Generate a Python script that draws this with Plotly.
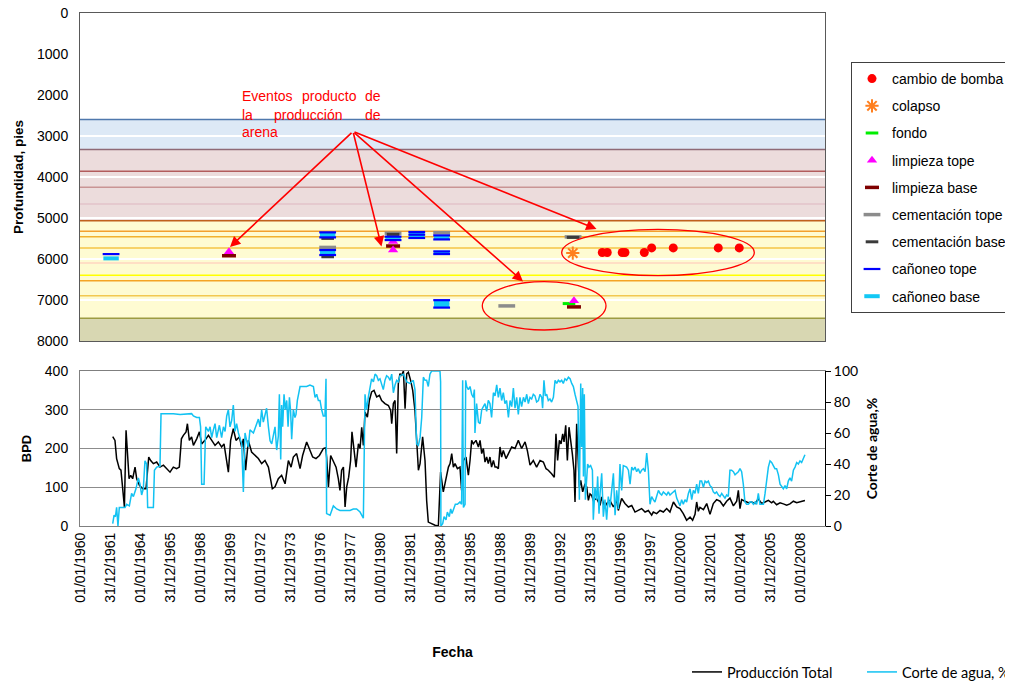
import plotly.graph_objects as go
from datetime import datetime

# ------------------------------------------------------------------ data
xtick_labels = ["01/01/1960", "31/12/1961", "01/01/1964", "31/12/1965", "01/01/1968",
                "31/12/1969", "01/01/1972", "31/12/1973", "01/01/1976", "31/12/1977",
                "01/01/1980", "31/12/1981", "01/01/1984", "31/12/1985", "01/01/1988",
                "31/12/1989", "01/01/1992", "31/12/1993", "01/01/1996", "31/12/1997",
                "01/01/2000", "31/12/2001", "01/01/2004", "31/12/2005", "01/01/2008"]

prod_year = [1962.18, 1962.33, 1962.44, 1962.62, 1962.73, 1962.89, 1962.96, 1963.07, 1963.18, 1963.27,
             1963.38, 1963.51, 1963.67, 1963.78, 1963.96, 1964.18, 1964.40, 1964.49, 1964.58, 1964.71,
             1964.89, 1965.11, 1965.33, 1965.56, 1965.78, 1966.00, 1966.22, 1966.44, 1966.62, 1966.76,
             1966.89, 1967.07, 1967.16, 1967.29, 1967.44, 1967.56, 1967.78, 1967.96, 1968.11, 1968.33,
             1968.56, 1968.78, 1969.00, 1969.22, 1969.44, 1969.60, 1969.78, 1969.89, 1970.04, 1970.22,
             1970.40, 1970.62, 1970.78, 1970.89, 1971.04, 1971.22, 1971.44, 1971.67, 1971.89, 1972.11,
             1972.33, 1972.56, 1972.67, 1972.82, 1973.00, 1973.22, 1973.44, 1973.67, 1973.89, 1974.07,
             1974.22, 1974.44, 1974.67, 1974.84, 1975.11, 1975.29, 1975.51, 1975.73, 1975.96, 1976.22,
             1976.38, 1976.44, 1976.56, 1976.71, 1976.89, 1977.07, 1977.22, 1977.33, 1977.44, 1977.56,
             1977.67, 1977.78, 1977.91, 1978.04, 1978.13, 1978.27, 1978.40, 1978.56, 1978.67, 1978.78,
             1978.89, 1979.00, 1979.16, 1979.29, 1979.44, 1979.60, 1979.78, 1979.96, 1980.11, 1980.33,
             1980.56, 1980.71, 1980.78, 1980.89, 1981.00, 1981.11, 1981.22, 1981.33, 1981.44, 1981.56,
             1981.67, 1981.78, 1981.89, 1982.04, 1982.18, 1982.33, 1982.44, 1982.56, 1982.67, 1982.84,
             1983.00, 1983.11, 1983.22, 1983.44, 1983.67, 1983.89,
             1984.04, 1984.22, 1984.40, 1984.56, 1984.67, 1984.78, 1984.89, 1985.00, 1985.16, 1985.33,
             1985.44, 1985.56, 1985.73, 1985.89, 1986.00, 1986.11, 1986.22, 1986.40, 1986.56, 1986.67,
             1986.78, 1986.89, 1987.00, 1987.11, 1987.22, 1987.33, 1987.44, 1987.56, 1987.67, 1987.78,
             1987.89, 1988.00, 1988.11, 1988.22, 1988.40, 1988.56, 1988.78, 1989.00, 1989.22, 1989.44,
             1989.67, 1989.82, 1990.00, 1990.22, 1990.44, 1990.67, 1990.89, 1991.07, 1991.22, 1991.44,
             1991.62, 1991.73, 1991.84, 1991.96, 1992.07, 1992.18, 1992.27, 1992.38, 1992.49, 1992.60,
             1992.71, 1992.82, 1992.93, 1993.00, 1993.11, 1993.20, 1993.29, 1993.38, 1993.51, 1993.67,
             1993.78, 1993.89, 1994.00, 1994.11, 1994.22, 1994.44, 1994.67, 1994.78, 1994.89, 1995.00,
             1995.11, 1995.33, 1995.56, 1995.78, 1995.89, 1996.11, 1996.33, 1996.56, 1996.78, 1997.00,
             1997.22, 1997.44, 1997.67, 1997.89, 1998.11, 1998.22, 1998.44, 1998.67, 1998.89, 1999.11,
             1999.33, 1999.56, 1999.78, 2000.00, 2000.22, 2000.44, 2000.67, 2000.84, 2001.00, 2001.11,
             2001.22, 2001.33, 2001.56, 2001.78, 2002.00, 2002.22, 2002.44, 2002.67, 2002.89, 2003.11,
             2003.33, 2003.56, 2003.78, 2003.89, 2004.00, 2004.11, 2004.33, 2004.56, 2004.78, 2005.00,
             2005.22, 2005.44, 2005.67, 2005.89, 2006.11, 2006.22, 2006.44, 2006.67, 2006.89, 2007.11,
             2007.33, 2007.56, 2007.78, 2008.00, 2008.33]
prod_bpd = [231, 221, 174, 148, 144, 83, 49, 247, 178, 122,
            131, 122, 152, 122, 105, 96, 96, 135, 178, 169,
            161, 165, 152, 157, 148, 139, 152, 148, 152, 225,
            234, 243, 264, 221, 230, 208, 225, 243, 212, 221,
            234, 221, 208, 217, 204, 212, 169, 139, 221, 251,
            221, 230, 204, 225, 144, 221, 191, 182, 174, 161,
            169, 152, 126, 96, 101, 122, 131, 109, 169, 152,
            178, 187, 148, 182, 217, 200, 178, 174, 182, 200,
            202, 178, 101, 182, 169, 152, 122, 92, 144, 152,
            49, 101, 126, 169, 243, 187, 152, 212, 200, 255,
            208, 294, 281, 324, 346, 350, 333, 337, 324, 316,
            311, 298, 264, 316, 324, 187, 367, 393, 389, 400,
            303, 393, 397, 376, 350, 298, 221, 144, 161, 230,
            169, 66, 10, 6, 2, 0,
            139, 88, 118, 152, 161, 187, 152, 161, 148, 152,
            92, 169, 178, 131, 169, 221, 212, 221, 204, 221,
            187, 200, 165, 178, 161, 178, 152, 169, 152, 152,
            148, 204, 178, 195, 174, 187, 204, 200, 221, 200,
            217, 195, 157, 169, 152, 169, 165, 148, 144, 135,
            126, 238, 169, 221, 212, 238, 217, 260, 169, 255,
            225, 187, 144, 62, 264, 178, 101, 118, 88, 109,
            101, 66, 83, 79, 66, 71, 53, 75, 58, 49,
            58, 66, 49, 66, 40, 71, 58, 49, 53, 36,
            40, 45, 36, 40, 28, 36, 32, 40, 36, 45,
            36, 62, 49, 45, 32, 15, 23, 15, 30, 62,
            38, 48, 42, 58, 30, 58, 68, 64, 52, 64,
            72, 52, 64, 92, 45, 68, 64, 60, 62, 58,
            70, 58, 62, 66, 60, 64, 55, 60, 57, 54,
            57, 64, 60, 63, 66]

cut_year = [1962.18, 1962.27, 1962.36, 1962.44, 1962.53, 1962.62, 1962.78, 1963.00, 1963.11, 1963.29,
            1963.44, 1963.56, 1963.73, 1963.89, 1964.00, 1964.11, 1964.22, 1964.33, 1964.44, 1964.51,
            1964.67, 1964.89, 1964.96, 1965.11, 1965.33, 1965.40, 1965.78, 1966.22, 1966.67, 1967.11,
            1967.44, 1967.56, 1967.78, 1967.96, 1968.04, 1968.11, 1968.27, 1968.38, 1968.56, 1968.67,
            1968.78, 1968.89, 1969.00, 1969.11, 1969.29, 1969.44, 1969.56, 1969.67, 1969.78, 1969.89,
            1970.00, 1970.11, 1970.22, 1970.33, 1970.44, 1970.56, 1970.67, 1970.78, 1970.89, 1971.00,
            1971.11, 1971.22, 1971.33, 1971.56, 1971.78, 1971.89, 1972.00, 1972.11, 1972.22, 1972.33,
            1972.44, 1972.56, 1972.67, 1972.78, 1972.89, 1973.00, 1973.11, 1973.22, 1973.29, 1973.38,
            1973.44, 1973.51, 1973.60, 1973.69, 1973.78, 1973.87, 1973.96, 1974.04, 1974.11, 1974.22,
            1974.33, 1974.40, 1974.49, 1974.58, 1974.67, 1974.89, 1975.11, 1975.33, 1975.56, 1975.67,
            1975.78, 1975.89, 1976.00, 1976.11, 1976.22, 1976.33, 1976.40, 1976.44, 1976.67, 1976.89,
            1977.11, 1977.33, 1977.56, 1977.78, 1978.00, 1978.22, 1978.44, 1978.67, 1978.89, 1979.00,
            1979.11, 1979.22, 1979.33, 1979.44, 1979.56, 1979.67, 1979.78, 1979.89, 1980.00, 1980.11,
            1980.22, 1980.33, 1980.44, 1980.56, 1980.67, 1980.78, 1980.89, 1981.00, 1981.11, 1981.22,
            1981.33, 1981.56, 1981.78, 1982.00, 1982.22, 1982.33, 1982.44, 1982.56, 1982.67, 1982.78,
            1982.84, 1982.89, 1983.00, 1983.11, 1983.22, 1983.33, 1983.44, 1983.70, 1984.00, 1984.04,
            1984.06, 1984.18, 1984.27, 1984.40, 1984.49, 1984.62, 1984.71, 1984.80, 1984.89, 1985.02,
            1985.16, 1985.33, 1985.44, 1985.51, 1985.56, 1985.67, 1985.71, 1985.78, 1985.89, 1986.00,
            1986.11, 1986.22, 1986.29, 1986.33, 1986.44, 1986.56, 1986.67, 1986.78, 1986.89, 1987.00,
            1987.11, 1987.22, 1987.33, 1987.44, 1987.56, 1987.67, 1987.78, 1987.89, 1988.00, 1988.11,
            1988.22, 1988.33, 1988.44, 1988.56, 1988.67, 1988.78, 1988.89, 1989.00, 1989.11, 1989.22,
            1989.33, 1989.44, 1989.56, 1989.67, 1989.78, 1989.89, 1990.00, 1990.11, 1990.22, 1990.33,
            1990.44, 1990.56, 1990.67, 1990.78, 1990.84, 1990.93, 1991.02, 1991.11, 1991.22, 1991.33,
            1991.44, 1991.56, 1991.67, 1991.78, 1991.89, 1992.00, 1992.11, 1992.22, 1992.33, 1992.44,
            1992.56, 1992.67, 1992.78, 1992.89, 1993.00, 1993.11, 1993.20, 1993.29, 1993.38, 1993.44,
            1993.51, 1993.56, 1993.62, 1993.69, 1993.78, 1993.84, 1993.93, 1994.04, 1994.16, 1994.22,
            1994.33, 1994.44, 1994.51, 1994.60, 1994.67, 1994.78, 1994.89, 1995.00, 1995.11, 1995.22,
            1995.33, 1995.44, 1995.56, 1995.67, 1995.78, 1995.89, 1996.00, 1996.11, 1996.22, 1996.44,
            1996.56, 1996.67, 1996.78, 1996.89, 1997.00, 1997.11, 1997.22, 1997.33, 1997.44, 1997.56,
            1997.67, 1997.78, 1997.89, 1998.00, 1998.11, 1998.22, 1998.33, 1998.44, 1998.56, 1998.67,
            1998.78, 1998.89, 1999.00, 1999.11, 1999.22, 1999.33, 1999.44, 1999.56, 1999.67, 1999.78,
            1999.89, 2000.00, 2000.11, 2000.22, 2000.33, 2000.44, 2000.56, 2000.67, 2000.78, 2000.89,
            2001.00, 2001.11, 2001.22, 2001.33, 2001.44, 2001.56, 2001.67, 2001.78, 2001.89, 2002.00,
            2002.11, 2002.22, 2002.33, 2002.44, 2002.56, 2002.67, 2002.78, 2002.89, 2003.00, 2003.11,
            2003.22, 2003.33, 2003.44, 2003.56, 2003.67, 2003.78, 2003.89, 2004.00, 2004.11, 2004.22,
            2004.33, 2004.44, 2004.56, 2004.67, 2004.78, 2004.89, 2005.00, 2005.11, 2005.22, 2005.33,
            2005.56, 2005.67, 2005.78, 2005.89, 2006.00, 2006.11, 2006.22, 2006.33, 2006.44, 2006.56,
            2006.67, 2006.78, 2006.89, 2007.00, 2007.11, 2007.22, 2007.33, 2007.44, 2007.56, 2007.67,
            2007.78, 2007.89, 2008.00, 2008.11, 2008.22, 2008.33]
cut_pct = [1.5, 7, 6, 12, 0, 12, 12, 12, 14, 13,
           21, 19, 24, 31, 27, 20, 24, 42, 40, 12,
           12, 12, 36, 38, 38.5, 72.5, 72.5, 72.5, 72, 72.5,
           72.5, 71, 70, 70, 64, 27, 27, 64, 61, 64,
           57, 62, 66, 57, 65, 57, 64, 61, 71, 75,
           64, 68, 78, 61, 66, 60, 57, 53, 22, 60,
           55, 51, 62, 60, 66, 69, 64, 75, 67, 72,
           76, 64, 55, 53, 60, 64, 49, 58, 85, 43,
           78, 64, 85, 75, 81, 64, 83, 74, 56, 75,
           70, 72, 81, 85, 90, 90, 90, 91, 90, 83,
           85, 81, 81, 75, 71, 71, 95, 8, 7, 13,
           11, 10, 10, 10, 10, 11, 11, 9, 5, 85,
           75, 83, 88, 95, 93, 98, 97, 94, 95, 91,
           88, 94, 97, 96, 94, 98, 86, 91, 94, 93,
           97, 98, 93, 92, 94, 88, 53, 52, 57, 70,
           83, 96, 94, 94, 90, 98, 100, 100, 100, 93,
           0, 1.5, 6, 4, 9, 6, 11, 8, 10, 14,
           14, 15.5, 14, 94, 12, 14, 94, 90, 88, 90,
           85, 83, 88, 60, 79, 67, 66, 75, 77, 79,
           74, 81, 79, 70, 86, 84, 91, 83, 89, 81,
           86, 79, 81, 70, 81, 77, 89, 76, 83, 72,
           83, 77, 83, 80, 85, 79, 83, 82, 85, 84,
           80, 81, 85, 83, 76, 94, 84, 85, 81, 82,
           80, 83, 94, 92, 94, 93, 94, 92, 95, 94,
           96, 95, 92, 90, 85, 81, 77, 17, 92, 51,
           89, 32, 85, 17, 34, 40, 38, 39, 36, 4,
           25, 17, 32, 8, 21, 34, 6, 17, 4, 19,
           12, 21, 34, 7, 23, 11, 40, 23, 39, 38,
           36, 27, 38, 36, 38, 35, 37, 34, 36, 37,
           35, 47, 36, 14, 19, 17, 15.5, 19, 23, 21,
           20, 22, 21, 20, 22, 20, 21, 22, 23, 18,
           15.5, 13, 17, 14, 17, 15.5, 21, 24, 17, 23,
           21, 27, 21, 29, 29, 25, 29, 28, 29, 26,
           25, 22, 21, 22, 20, 19, 21, 19, 18, 20,
           19, 36, 36, 35, 33, 34, 35, 37, 35, 27,
           15.5, 14, 14, 15.5, 15.5, 14, 15.5, 14, 21, 14,
           14, 21, 29, 38, 42, 41, 39, 37, 37, 33,
           27, 25, 24, 26, 24, 29, 31, 29, 36, 38,
           41, 40, 42, 41, 43, 46]

# well events (decimal year, depth in feet)
bomba_year = [1994.82, 1995.15, 1996.15, 1996.33, 1997.62, 1998.11, 1999.55, 2002.55, 2003.95]
bomba_depth = [5840, 5840, 5840, 5840, 5840, 5730, 5730, 5730, 5730]
colapso_year = [1992.85]
colapso_depth = [5855]
fondo_year = [1992.60]
fondo_depth = [7087]
limp_tope_year = [1969.93, 1980.87, 1980.87, 1992.93]
limp_tope_depth = [5823, 5571, 5781, 7021]
limp_base_year = [1969.93, 1980.87, 1992.93]
limp_base_depth = [5920, 5683, 7168]
cem_tope_year = [1976.51, 1980.87, 1984.11, 1988.45, 1992.87]
cem_tope_depth = [5717, 5370, 5358, 7144, 5460]
cem_base_year = [1976.51, 1976.51, 1980.87, 1992.87]
cem_base_depth = [5497, 5945, 5400, 5473]
can_tope_year = [1962.07, 1976.51, 1976.51, 1976.51, 1976.51, 1980.87, 1980.87,
                 1982.45, 1982.45, 1982.45, 1984.11, 1984.11, 1984.11, 1984.11, 1984.11, 1984.11]
can_tope_depth = [5880, 5350, 5473, 5781, 5903, 5455, 5538,
                  5341, 5407, 5487, 5424, 5522, 5815, 5879, 7004, 7185]
can_base_year = [1962.07, 1976.51, 1976.51, 1980.87, 1982.45, 1982.45, 1984.11, 1984.11, 1984.11, 1984.11]
can_base_depth = [5985, 5412, 5842, 5497, 5374, 5447, 5473, 5847, 7060, 7130]

# formation bands (depth, ft) and horizon lines
band_top = [2600, 3330, 5064, 7445]
band_bottom = [3330, 5064, 7445, 8000]
horizon_depth = [2600, 3330, 3857, 4249, 4657, 5064, 5326, 5456, 5733, 6100, 6394, 6532, 6899, 7445]

# ------------------------------------------------------------------ styles
band_fill = ["#dde9f6", "#ecdcdc", "#fefbd2", "#d8d7b2"]
horizon_color = ["#4f78ad", "#8f6a76", "#b25c5c", "#c99494", "#e3c3ca", "#c0601c", "#f3a02e",
                 "#f2b22e", "#f4c445", "#ffd6c0", "#ffff00", "#f4a424", "#f2c850", "#9c9b42"]

ARIAL = "Liberation Sans, Arial, sans-serif"
CALI = "Lato, Carlito, sans-serif"


def to_date(v):
    y = int(v)
    a = datetime(y, 1, 1)
    b = datetime(y + 1, 1, 1)
    return a + (b - a) * (v - y)


def dates(lst):
    return [to_date(v) for v in lst]


fig = go.Figure()

# --- bottom chart
fig.add_trace(go.Scatter(x=dates(prod_year), y=prod_bpd, mode="lines", name="Producción Total",
                         line=dict(color="black", width=1.5), xaxis="x", yaxis="y", legend="legend2"))
fig.add_trace(go.Scatter(x=dates(cut_year), y=cut_pct, mode="lines", name="Corte de agua, %",
                         line=dict(color="#12c2f2", width=1.5), xaxis="x", yaxis="y3", legend="legend2"))


def ev(name, yrs, dep, marker, rank):
    fig.add_trace(go.Scatter(x=dates(yrs), y=dep, mode="markers", name=name, marker=marker,
                             xaxis="x2", yaxis="y2", legend="legend", legendgroup=name,
                             legendrank=rank))


ORANGE = "#ff7f1e"
ev("cambio de bomba", bomba_year, bomba_depth, dict(symbol="circle", size=9, color="#ff0000"), 1)
ev("colapso", colapso_year, colapso_depth,
   dict(symbol="asterisk-open", size=11, color=ORANGE, line=dict(color=ORANGE, width=2)), 2)
ev("fondo", fondo_year, fondo_depth,
   dict(symbol="line-ew", size=9, color="#00ee00", line=dict(color="#00ee00", width=3)), 3)
ev("limpieza base", limp_base_year, limp_base_depth,
   dict(symbol="line-ew", size=10, color="#7f0000", line=dict(color="#7f0000", width=3.5)), 5)
ev("limpieza tope", limp_tope_year, limp_tope_depth,
   dict(symbol="triangle-up", size=9, color="#ff00ff"), 4)
ev("cementación tope", cem_tope_year, cem_tope_depth,
   dict(symbol="line-ew", size=12, color="#8c8c8c", line=dict(color="#8c8c8c", width=3.5)), 6)
ev("cementación base", cem_base_year, cem_base_depth,
   dict(symbol="line-ew", size=9, color="#3a3a3a", line=dict(color="#3a3a3a", width=3)), 7)
ev("cañoneo base", can_base_year, can_base_depth,
   dict(symbol="line-ew", size=11, color="#12c8f5", line=dict(color="#12c8f5", width=4)), 9)
ev("cañoneo tope", can_tope_year, can_tope_depth,
   dict(symbol="line-ew", size=12, color="#0000ff", line=dict(color="#0000ff", width=2.2)), 8)

# --- shapes: formation bands and horizons
shapes = []
for t, b, c in zip(band_top, band_bottom, band_fill):
    shapes.append(dict(type="rect", xref="x2 domain", yref="y2", x0=0, x1=1, y0=t, y1=b,
                       fillcolor=c, line=dict(width=0), layer="below"))
for d, c in zip(horizon_depth, horizon_color):
    shapes.append(dict(type="line", xref="x2 domain", yref="y2", x0=0, x1=1, y0=d, y1=d,
                       line=dict(color=c, width=1.5), layer="below"))


# screen pixel -> paper helpers (plot area 80..825 x, 13..526 y on screen)
def px(xp):
    return (xp - 80) / 745.0


def py(yp):
    return (526 - yp) / 513.0


shapes.append(dict(type="circle", xref="paper", yref="paper", x0=px(561.7), x1=px(754.3),
                   y0=py(275.7), y1=py(229.3), line=dict(color="#ff0000", width=1.3)))
shapes.append(dict(type="circle", xref="paper", yref="paper", x0=px(482.3), x1=px(606),
                   y0=py(330), y1=py(281.7), line=dict(color="#ff0000", width=1.3)))

# --- annotations: red text + arrows
annotations = []
red = dict(family=ARIAL, size=14, color="#ff0000")
for txt, xp, yp in [("Eventos", 240, 96), ("producto", 300, 96), ("de", 363, 96),
                    ("la", 240, 115), ("producción", 272, 115), ("de", 363, 115),
                    ("arena", 240, 132.5)]:
    annotations.append(dict(text=txt, x=px(xp), y=py(yp), xref="paper", yref="paper",
                            xanchor="left", yanchor="middle", showarrow=False, font=red))

ox, oy = 353, 131.5
for hx, hy in [(230, 247), (381.5, 246.5), (523, 281.5), (596.5, 229)]:
    annotations.append(dict(text="", x=px(hx), y=py(hy), xref="paper", yref="paper",
                            ax=ox - hx, ay=oy - hy, axref="pixel", ayref="pixel",
                            showarrow=True, arrowhead=2, arrowsize=1.3, arrowwidth=1.6,
                            arrowcolor="#ff0000", standoff=0))

tickvals = [datetime.strptime(s, "%d/%m/%Y") for s in xtick_labels]

fig.update_layout(
    width=1013, height=683,
    margin=dict(l=72, r=196, t=5, b=165, autoexpand=False),
    paper_bgcolor="white", plot_bgcolor="white",
    font=dict(family=ARIAL, size=14, color="black"),
    shapes=shapes, annotations=annotations,
    xaxis=dict(anchor="y", type="date", range=[datetime(1960, 1, 1), datetime(2009, 9, 1)],
               tickmode="array", tickvals=tickvals, ticktext=xtick_labels, tickangle=-90,
               tickfont=dict(family=ARIAL, size=14), showgrid=False, zeroline=False,
               showline=True, linecolor="#7f7f7f", linewidth=1, mirror=True, ticks="",
               automargin=False, ticklabeloverflow="allow",
               title=dict(text="<b>Fecha</b>", font=dict(family=ARIAL, size=14), standoff=45)),
    xaxis2=dict(anchor="y2", matches="x", showticklabels=False, showgrid=False, zeroline=False,
                showline=True, linecolor="#595959", linewidth=1, mirror=True, ticks="",
                automargin=False),
    yaxis=dict(domain=[0, 0.3021], range=[0, 400], tick0=0, dtick=100, showgrid=True,
               gridcolor="#8c8c8c", gridwidth=1, zeroline=False, showline=True,
               linecolor="#7f7f7f", ticks="", tickfont=dict(family=ARIAL, size=14),
               ticklabelstandoff=8, automargin=False, ticklabeloverflow="allow",
               title=dict(text="<b>BPD</b>", font=dict(family=ARIAL, size=13), standoff=10)),
    yaxis3=dict(overlaying="y", side="right", anchor="x", range=[0, 100], tick0=0, dtick=20,
                showgrid=False, zeroline=False, showline=True, linecolor="black", linewidth=1,
                ticks="outside", ticklen=5, tickcolor="black", automargin=False,
                ticklabeloverflow="allow", tickfont=dict(family=CALI, size=14),
                title=dict(text="<b>Corte de agua,%</b>", font=dict(family=CALI, size=14), standoff=10)),
    yaxis2=dict(domain=[0.3606, 1], range=[8000, 0], tick0=0, dtick=1000, showgrid=True,
                gridcolor="white", gridwidth=1.5, zeroline=False, showline=True,
                linecolor="#595959", linewidth=1, mirror=True, ticks="",
                tickfont=dict(family=ARIAL, size=14), ticklabelstandoff=8, automargin=False,
                ticklabeloverflow="allow",
                title=dict(text="<b>Profundidad, pies</b>", font=dict(family=ARIAL, size=13.5), standoff=10)),
    legend=dict(x=px(851), y=py(62), xanchor="left", yanchor="top", orientation="v",
                traceorder="grouped", tracegroupgap=6, bgcolor="white",
                bordercolor="#404040", borderwidth=1, font=dict(family=ARIAL, size=14)),
    legend2=dict(x=px(687), y=py(672), xanchor="left", yanchor="middle", orientation="h",
                 entrywidth=130, bgcolor="rgba(0,0,0,0)", font=dict(family=CALI, size=14.5)),
)

fig.write_html("out.html")
